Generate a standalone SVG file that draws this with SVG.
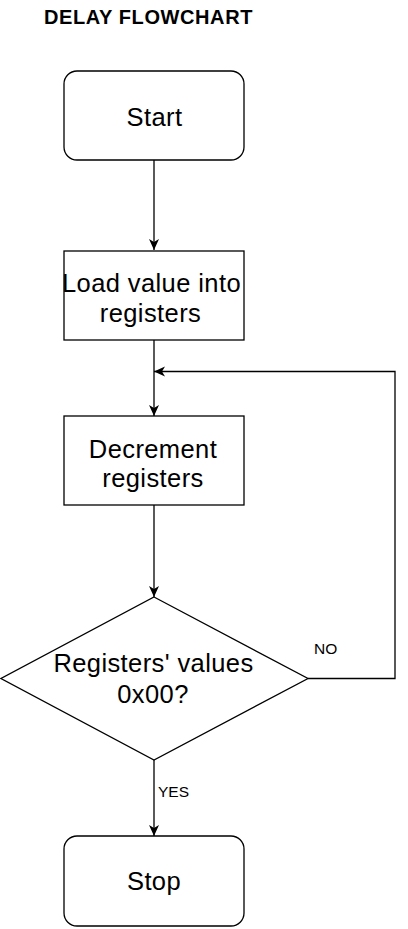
<svg xmlns="http://www.w3.org/2000/svg" width="408" height="929" viewBox="0 0 408 929">
  <style>
    .shape { fill: #ffffff; stroke: #000000; stroke-width: 1.3; }
    .edge { fill: none; stroke: #000000; stroke-width: 1.3; }
    .label { font-family: "Liberation Sans", Arial, sans-serif; font-size: 25.5px; letter-spacing: 0.4px; fill: #000000; text-anchor: middle; }
    .small { font-family: "Liberation Sans", Arial, sans-serif; font-size: 15.5px; fill: #000000; }
    .title { font-family: "Liberation Sans", Arial, sans-serif; font-size: 20px; letter-spacing: 0.6px; font-weight: bold; fill: #000000; }
  </style>
  <defs>
    <marker id="arrow" viewBox="0 0 11 11" markerWidth="11" markerHeight="11" refX="11" refY="5.5" orient="auto" markerUnits="userSpaceOnUse">
      <path d="M0,0.5 L11,5.5 L0,10.5 L3,5.5 Z" fill="#000000"/>
    </marker>
  </defs>
  <rect width="408" height="929" fill="#ffffff"/>

  <text class="title" x="44" y="24">DELAY FLOWCHART</text>

  <g id="connectors">
    <path class="edge" d="M154,160 V250" marker-end="url(#arrow)"/>
    <path class="edge" d="M154,340 V416" marker-end="url(#arrow)"/>
    <path class="edge" d="M154,505 V597" marker-end="url(#arrow)"/>
    <path class="edge" d="M154,760 V836" marker-end="url(#arrow)"/>
    <path class="edge" d="M308,678.5 H395 V371.5 H154" marker-end="url(#arrow)"/>
    <text class="small" x="314" y="654">NO</text>
    <text class="small" x="158" y="797">YES</text>
  </g>

  <g id="start">
    <rect class="shape" x="64" y="71" width="180" height="89" rx="13" ry="13"/>
    <text class="label" x="154.5" y="126">Start</text>
  </g>

  <g id="load">
    <rect class="shape" x="64" y="251" width="180" height="89"/>
    <text class="label" x="151.5" y="291.5">Load value into</text>
    <text class="label" x="150.5" y="321.5">registers</text>
  </g>

  <g id="decrement">
    <rect class="shape" x="64" y="416" width="180" height="89"/>
    <text class="label" x="153" y="458">Decrement</text>
    <text class="label" x="153" y="487">registers</text>
  </g>

  <g id="decision">
    <polygon class="shape" points="154,597 308,678.5 154,760 1,678.5"/>
    <text class="label" x="153.5" y="672">Registers' values</text>
    <text class="label" x="153" y="703">0x00?</text>
  </g>

  <g id="stop">
    <rect class="shape" x="64" y="836" width="180" height="90" rx="13" ry="13"/>
    <text class="label" x="154" y="890">Stop</text>
  </g>
</svg>
